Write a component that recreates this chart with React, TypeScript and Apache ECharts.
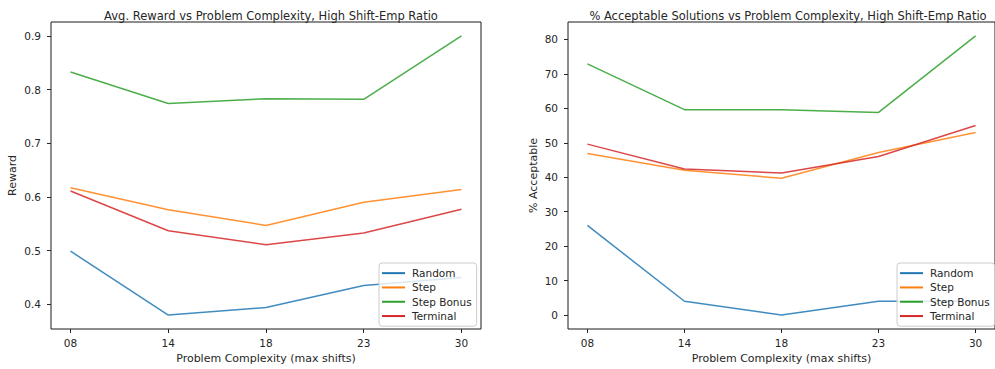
import React, { useEffect, useRef } from "react";
import * as echarts from "echarts";

const categories = ["08", "14", "18", "23", "30"];
const seriesNames = ["Random", "Step", "Step Bonus", "Terminal"];
const colors = ["#1f77b4", "#ff7f0e", "#2ca02c", "#d62728"];

const rewardRandom = [0.499, 0.38, 0.394, 0.435, 0.45];
const rewardStep = [0.617, 0.576, 0.547, 0.59, 0.614];
const rewardStepBonus = [0.833, 0.774, 0.783, 0.782, 0.9];
const rewardTerminal = [0.611, 0.537, 0.511, 0.533, 0.577];

const accRandom = [26.0, 4.0, 0.0, 4.0, 4.0];
const accStep = [46.9, 42.0, 39.7, 47.2, 53.0];
const accStepBonus = [72.9, 59.6, 59.6, 58.8, 81.0];
const accTerminal = [49.6, 42.4, 41.2, 46.0, 55.0];

const rewardTicks = [0.4, 0.5, 0.6, 0.7, 0.8, 0.9];
const accTicks = [0, 10, 20, 30, 40, 50, 60, 70, 80];

const FONT = "DejaVu Sans";
const TEXT = "#262626";

export default function App() {
  const ref = useRef<HTMLDivElement>(null);
  useEffect(() => {
    if (!ref.current) return;
    const chart = echarts.init(ref.current, undefined, { renderer: "svg" });
    const xIdx = categories.map((_, i) => i);
    const mk = (vals: number[]) => vals.map((v, i) => [i, v]);
    const rewardData = [rewardRandom, rewardStep, rewardStepBonus, rewardTerminal];
    const accData = [accRandom, accStep, accStepBonus, accTerminal];

    const xAxisBase = (gridIndex: number) => ({
      type: "value",
      gridIndex,
      min: -0.2,
      max: 4.2,
      name: "Problem Complexity (max shifts)",
      nameLocation: "middle",
      nameGap: 21,
      nameTextStyle: { fontFamily: FONT, fontSize: 11, color: TEXT },
      axisLine: { show: false, onZero: false },
      splitLine: { show: false },
      axisTick: { show: true, length: 4, customValues: xIdx, lineStyle: { color: TEXT } },
      axisLabel: {
        customValues: xIdx,
        formatter: (v: number) => categories[Math.round(v)] ?? "",
        fontFamily: FONT,
        fontSize: 10.5,
        color: TEXT,
        margin: 8,
      },
    });
    const yAxisBase = (gridIndex: number, name: string, min: number, max: number, ticks: number[], fmt: (v: number) => string, gap: number) => ({
      type: "value",
      gridIndex,
      min,
      max,
      name,
      nameLocation: "middle",
      nameGap: gap,
      nameTextStyle: { fontFamily: FONT, fontSize: 11, color: TEXT },
      axisLine: { show: false, onZero: false },
      splitLine: { show: false },
      axisTick: { show: true, length: 4, customValues: ticks, lineStyle: { color: TEXT } },
      axisLabel: {
        customValues: ticks,
        formatter: fmt,
        fontFamily: FONT,
        fontSize: 10.5,
        color: TEXT,
        margin: 10,
      },
    });

    const legendBase = (left: number) => ({
      orient: "vertical",
      left,
      top: 263,
      data: seriesNames,
      icon: "rect",
      itemWidth: 23,
      itemHeight: 2,
      itemGap: 0,
      padding: [3, 5, 3, 3],
      borderColor: "#cccccc",
      borderWidth: 1,
      borderRadius: 3,
      backgroundColor: "rgba(255,255,255,0.8)",
      textStyle: { fontFamily: FONT, fontSize: 10.5, color: TEXT, lineHeight: 14.3, padding: [0, 0, 0, 2] },
    });

    const series: any[] = [];
    seriesNames.forEach((n, k) => {
      series.push({
        type: "line",
        name: n,
        xAxisIndex: 0,
        yAxisIndex: 0,
        data: mk(rewardData[k]),
        showSymbol: false,
        symbol: "none",
        lineStyle: { width: 1.5, color: colors[k], opacity: 0.85 },
        itemStyle: { color: colors[k] },
      });
    });
    seriesNames.forEach((n, k) => {
      series.push({
        type: "line",
        name: n,
        xAxisIndex: 1,
        yAxisIndex: 1,
        data: mk(accData[k]),
        showSymbol: false,
        symbol: "none",
        lineStyle: { width: 1.5, color: colors[k], opacity: 0.85 },
        itemStyle: { color: colors[k] },
      });
    });

    chart.setOption({
      animation: false,
      backgroundColor: "#ffffff",
      title: [
        {
          text: "Avg. Reward vs Problem Complexity, High Shift-Emp Ratio",
          left: 266,
          textAlign: "center",
          top: 5,
          textStyle: { fontFamily: FONT, fontSize: 11.5, fontWeight: "normal", color: TEXT },
        },
        {
          text: "% Acceptable Solutions vs Problem Complexity, High Shift-Emp Ratio",
          left: 783,
          textAlign: "center",
          top: 5,
          textStyle: { fontFamily: FONT, fontSize: 11.5, fontWeight: "normal", color: TEXT },
        },
      ],
      grid: [
        { left: 51, top: 22, width: 430, height: 307, show: true, borderColor: "#1a1a1a", borderWidth: 1, backgroundColor: "transparent" },
        { left: 568, top: 22, width: 430, height: 307, show: true, borderColor: "#1a1a1a", borderWidth: 1, backgroundColor: "transparent" },
      ],
      xAxis: [xAxisBase(0), xAxisBase(1)],
      yAxis: [
        yAxisBase(0, "Reward", 0.354, 0.926, rewardTicks, (v: number) => v.toFixed(1), 33),
        yAxisBase(1, "% Acceptable", -4.05, 85.05, accTicks, (v: number) => String(Math.round(v)), 29),
      ],
      legend: [legendBase(379), legendBase(897)],
      series,
    });
    return () => chart.dispose();
  }, []);
  return (
    <div
      ref={ref}
      style={{ position: "fixed", left: 0, top: 0, width: 995, height: 369 }}
    />
  );
}
